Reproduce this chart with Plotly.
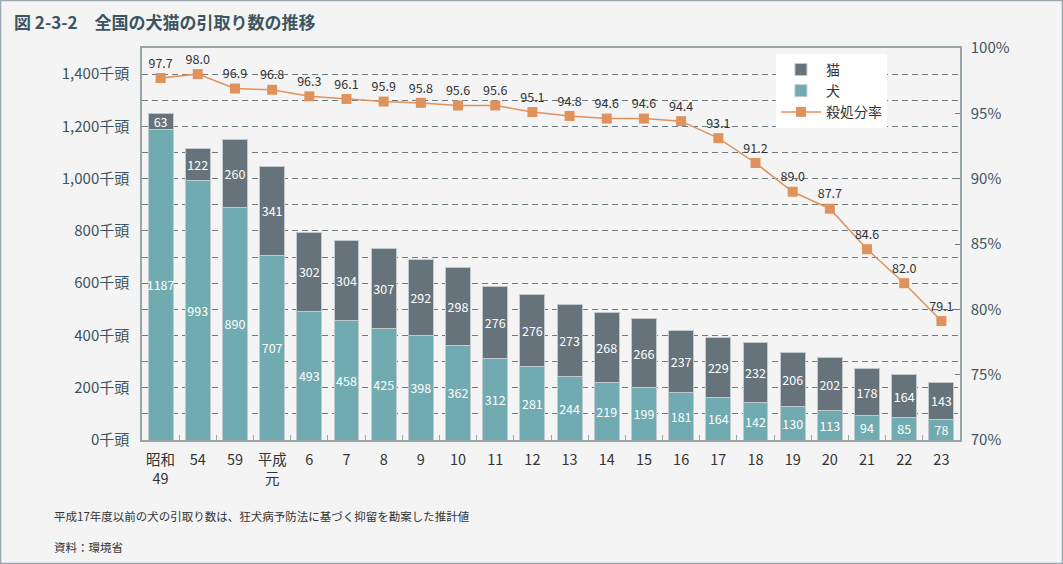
import plotly.graph_objects as go

categories = ["昭和<br>49", "54", "59", "平成<br>元", "6", "7", "8", "9", "10", "11", "12",
              "13", "14", "15", "16", "17", "18", "19", "20", "21", "22", "23"]
dogs = [1187, 993, 890, 707, 493, 458, 425, 398, 362, 312, 281, 244, 219, 199, 181, 164,
        142, 130, 113, 94, 85, 78]
cats = [63, 122, 260, 341, 302, 304, 307, 292, 298, 276, 276, 273, 268, 266, 237, 229,
        232, 206, 202, 178, 164, 143]
rates = [97.7, 98.0, 96.9, 96.8, 96.3, 96.1, 95.9, 95.8, 95.6, 95.6, 95.1, 94.8, 94.6,
         94.6, 94.4, 93.1, 91.2, 89.0, 87.7, 84.6, 82.0, 79.1]
left_ticks = [0, 200, 400, 600, 800, 1000, 1200, 1400]
left_labels = [f"{v:,}千頭" for v in left_ticks]
right_ticks = [70, 75, 80, 85, 90, 95, 100]
right_labels = [f"{v}%" for v in right_ticks]

FONT = "Noto Sans CJK JP"
DOG = "#6fabb0"
CAT = "#67737a"
RATE = "#e0925c"
AX = "#3d5560"
GRID = "#6d7a80"

fig = go.Figure()
fig.add_trace(go.Bar(
    x=categories, y=dogs, name="犬", marker=dict(color=DOG, line=dict(color="#c3cacd", width=1)),
    text=[str(v) for v in dogs], textposition="inside", insidetextanchor="middle",
    textangle=0, textfont=dict(color="white", size=12.5, family=FONT), width=0.67,
    legendrank=2, hoverinfo="skip"))
fig.add_trace(go.Bar(
    x=categories, y=cats, name="猫", marker=dict(color=CAT, line=dict(color="#c3cacd", width=1)),
    text=[str(v) for v in cats], textposition="inside", insidetextanchor="middle",
    textangle=0, textfont=dict(color="white", size=12.5, family=FONT), width=0.67,
    legendrank=1, hoverinfo="skip"))
fig.add_trace(go.Scatter(
    x=categories, y=rates, name="殺処分率", yaxis="y2", mode="lines+markers+text",
    line=dict(color=RATE, width=1.5), marker=dict(symbol="square", size=10, color=RATE),
    text=[f"{v:.1f}" for v in rates], textposition="top center",
    textfont=dict(color="#333333", size=12.5, family=FONT), legendrank=3, hoverinfo="skip",
    cliponaxis=False))

fig.update_layout(
    width=1063, height=564, barmode="stack",
    paper_bgcolor="#f4f4f4", plot_bgcolor="#f4f4f4",
    margin=dict(l=142, r=103, t=48, b=124),
    font=dict(family=FONT, color=AX),
    uniformtext=dict(minsize=12.5, mode="show"),
    showlegend=True,
    legend=dict(x=0.775, y=0.985, xanchor="left", yanchor="top", bgcolor="white",
                traceorder="normal",
                font=dict(size=14, color="#333333", family=FONT), tracegroupgap=0,
                itemwidth=40),
    xaxis=dict(type="category", range=[-0.5, 21.5], showline=True, linecolor="#9aa5aa",
               linewidth=1.5, mirror=True, ticks="inside", tickson="boundaries", ticklen=5,
               tickcolor="#9aa5aa", tickfont=dict(size=14.5, color="#333333"), showgrid=False,
               tickangle=0, ticklabelstandoff=6),
    yaxis=dict(range=[0, 1500], tickvals=left_ticks, ticktext=left_labels,
               tickfont=dict(size=15, color=AX), showgrid=True, gridcolor=GRID,
               griddash="6px,4px", gridwidth=1, showline=True, linecolor="#9aa5aa",
               linewidth=1.5, zeroline=False, ticklabelstandoff=8,
               minor=dict(dtick=100, showgrid=True, gridcolor=GRID, griddash="6px,4px",
                          gridwidth=1)),
    yaxis2=dict(range=[70, 100], overlaying="y", side="right", tickvals=right_ticks,
                ticktext=right_labels, tickfont=dict(size=15, color=AX), showgrid=False,
                ticks="inside", ticklen=5, tickcolor=GRID, showline=True,
                linecolor="#9aa5aa", linewidth=1.5, zeroline=False, ticklabelstandoff=6),
)

fig.add_annotation(text="<b>図 2-3-2　全国の犬猫の引取り数の推移</b>", xref="paper", yref="paper",
                   x=-142/818 + 12/818, y=1 + 27/392, xanchor="left", yanchor="middle",
                   showarrow=False, font=dict(size=17, color=AX, family=FONT))
fig.add_annotation(text="平成17年度以前の犬の引取り数は、狂犬病予防法に基づく抑留を勘案した推計値",
                   xref="paper", yref="paper", x=-142/818 + 52/818, y=-(516-440)/392,
                   xanchor="left", yanchor="middle", showarrow=False,
                   font=dict(size=11.5, color="#333333", family=FONT))
fig.add_annotation(text="資料：環境省", xref="paper", yref="paper", x=-142/818 + 52/818,
                   y=-(547-440)/392, xanchor="left", yanchor="middle", showarrow=False,
                   font=dict(size=11.5, color="#333333", family=FONT))
fig.add_shape(type="rect", xref="paper", yref="paper", x0=-142/818 + 0.5/818,
              x1=1 + 102.5/818, y0=-(124 - 0.5)/392, y1=1 + 47.5/392,
              line=dict(color="#9aa8ae", width=1.5), layer="below")

fig.write_html("out.html")
